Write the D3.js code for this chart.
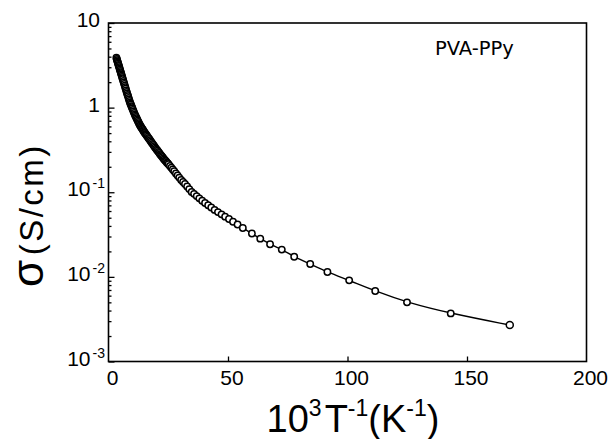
<!DOCTYPE html>
<html>
<head>
<meta charset="utf-8">
<script src="https://cdn.jsdelivr.net/npm/d3@7/dist/d3.min.js"></script>
<style>
  body { margin: 0; background: #fff; }
  text { font-family: "Liberation Sans", Arial, sans-serif; fill: #000; }
</style>
</head>
<body>
<svg id="chart" width="613" height="439"></svg>
<script>
// 10^3 / T (1/K)
const invT = [
  3.30, 3.45, 3.60, 3.75, 3.90, 4.05, 4.20, 4.35, 4.50, 4.65, 4.80, 4.95, 5.10, 5.25,
  5.40, 5.55, 5.70, 5.85, 6.00,
  6.2, 6.4, 6.6, 6.8, 7.0, 7.2, 7.4, 7.6, 7.8, 8.0, 8.2, 8.4, 8.6, 8.8, 9.0, 9.2, 9.4,
  9.6, 9.8, 10.0,
  10.25, 10.5, 10.75, 11.0, 11.25, 11.5, 11.75, 12.0, 12.25, 12.5, 12.75, 13.0, 13.25,
  13.5, 13.75, 14.0, 14.25, 14.5, 14.75, 15.0, 15.25, 15.5, 15.75, 16.0,
  16.35, 16.7, 17.05, 17.4, 17.75, 18.1, 18.45, 18.8, 19.15, 19.5, 19.85, 20.2, 20.55,
  20.9, 21.25, 21.6, 21.95, 22.3, 22.65, 23.0, 23.35, 23.7, 24.05, 24.4, 24.75, 25.1,
  25.7, 26.3, 26.9, 27.5, 28.2, 28.9, 29.6, 30.4, 31.2, 32.0, 32.9, 33.8, 34.8, 35.8,
  36.9, 38.0, 39.2, 40.4, 41.7, 43.0, 44.4, 45.8, 47.3, 48.8, 50.4, 52.1, 54.0, 56.2,
  60.0, 63.5, 67.6, 72.5, 77.7, 84.4, 91.6, 100.7, 111.6, 124.9, 143.2, 167.9
];
// conductivity (S/cm)
const sigma = [
  3.88, 3.76, 3.64, 3.52, 3.41, 3.30, 3.20, 3.10, 3.00, 2.90, 2.81, 2.72, 2.63, 2.55,
  2.47, 2.39, 2.31, 2.23, 2.16,
  2.07, 1.98, 1.90, 1.82, 1.74, 1.67, 1.60, 1.53, 1.47, 1.41, 1.36, 1.30, 1.25, 1.20, 1.15, 1.11, 1.08,
  1.04, 1.01, 0.977,
  0.939, 0.902, 0.866, 0.832, 0.804, 0.776, 0.750, 0.724, 0.700, 0.676, 0.653, 0.631, 0.615,
  0.599, 0.583, 0.569, 0.555, 0.540, 0.526, 0.513, 0.501, 0.490, 0.479, 0.468,
  0.453, 0.439, 0.425, 0.411, 0.398, 0.385, 0.373, 0.361, 0.350, 0.339, 0.328, 0.318, 0.309,
  0.300, 0.291, 0.282, 0.274, 0.267, 0.259, 0.251, 0.244, 0.238, 0.232, 0.225, 0.220, 0.214,
  0.204, 0.195, 0.186, 0.177, 0.167, 0.158, 0.149, 0.140, 0.132, 0.125, 0.117, 0.109, 0.101, 0.0957,
  0.0900, 0.0847, 0.0793, 0.0745, 0.0702, 0.0661, 0.0619, 0.0583, 0.0548, 0.0515, 0.0482, 0.0449, 0.0415, 0.0378,
  0.0325, 0.0283, 0.0243, 0.0210, 0.0173, 0.0142, 0.0114, 0.0091, 0.0068, 0.0050, 0.0037, 0.0027
];

const xTickValues = [0, 50, 100, 150, 200];
const yDecades = [1, 0, -1, -2, -3];
const sampleLabel = "PVA-PPy";

const svg = d3.select("#chart");
const plotL = 108.5, plotR = 586.5, plotT = 23, plotB = 361.5;

const x = d3.scaleLinear().domain([0, 200]).range([plotL, plotR]);
const y = d3.scaleLog().domain([1e-3, 10]).range([plotB, plotT]);

const points = invT.map((v, i) => ({ x: v, s: sigma[i] }));

// frame
svg.append("rect")
  .attr("x", plotL).attr("y", plotT)
  .attr("width", plotR - plotL).attr("height", plotB - plotT)
  .attr("fill", "none").attr("stroke", "#000").attr("stroke-width", 1.6);

// y ticks, pointing inward
const majors = yDecades.map(e => Math.pow(10, e));
const minors = [];
yDecades.slice(1).forEach(e => {
  for (let k = 2; k <= 9; k++) minors.push(k * Math.pow(10, e));
});

const yMajor = svg.append("g").attr("transform", `translate(${plotL},0)`)
  .call(d3.axisRight(y).tickValues(majors).tickSize(6).tickFormat(""));
const yMinor = svg.append("g").attr("transform", `translate(${plotL},0)`)
  .call(d3.axisRight(y).tickValues(minors).tickSize(3).tickFormat(""));
[yMajor, yMinor].forEach(g => {
  g.select(".domain").remove();
  g.selectAll("line").attr("stroke", "#000").attr("stroke-width", 1.3);
});

// x ticks, pointing up
const xAxis = svg.append("g").attr("transform", `translate(0,${plotB})`)
  .call(d3.axisTop(x).tickValues(xTickValues.slice(1, -1)).tickSize(5).tickFormat(""));
xAxis.select(".domain").remove();
xAxis.selectAll("line").attr("stroke", "#000").attr("stroke-width", 1.3);

// x tick labels
svg.append("g").selectAll("text")
  .data(xTickValues)
  .enter().append("text")
  .attr("x", d => x(d) + 4)
  .attr("y", 385)
  .attr("text-anchor", "middle")
  .style("font-size", "21px")
  .text(d => d);

// y tick labels with superscript exponents
const yLab = svg.append("g").selectAll("text")
  .data(yDecades)
  .enter().append("text")
  .attr("x", d => (d >= 0 ? 100 : 105))
  .attr("y", d => y(Math.pow(10, d)) + 4)
  .attr("text-anchor", "end")
  .style("font-size", "21px");
yLab.append("tspan").text(d => (d === 0 ? "1" : "10"));
yLab.filter(d => d < 0).append("tspan")
  .attr("dy", -8).attr("dx", 2)
  .style("font-size", "14px")
  .text(d => d);

// fitted curve
const line = d3.line()
  .x(d => x(d.x))
  .y(d => y(d.s))
  .curve(d3.curveBasis);

svg.append("path")
  .datum(points)
  .attr("d", line)
  .attr("fill", "none")
  .attr("stroke", "#000")
  .attr("stroke-width", 1.4);

// data points, open circles
svg.append("g").selectAll("circle")
  .data(points)
  .enter().append("circle")
  .attr("cx", d => x(d.x))
  .attr("cy", d => y(d.s))
  .attr("r", (d, i) => (i === points.length - 1 ? 3.5 : 3.2))
  .attr("fill", "#fff")
  .attr("stroke", "#000")
  .attr("stroke-width", 1.5);

// sample label
svg.append("text")
  .attr("x", 435)
  .attr("y", 55)
  .style("font-family", "'DejaVu Sans', sans-serif")
  .style("font-size", "19.5px")
  .text(sampleLabel);

// x axis title: 10^3 T^-1 (K^-1)
const xt = svg.append("text")
  .attr("x", 353)
  .attr("y", 432)
  .attr("text-anchor", "middle")
  .style("font-size", "38px");
xt.append("tspan").text("10");
xt.append("tspan").attr("dy", -16).style("font-size", "23px").text("3");
xt.append("tspan").attr("dy", 16).attr("dx", 3).text("T");
xt.append("tspan").attr("dy", -16).style("font-size", "23px").text("-1");
xt.append("tspan").attr("dy", 16).text("(K");
xt.append("tspan").attr("dy", -16).style("font-size", "23px").text("-1");
xt.append("tspan").attr("dy", 16).text(")");

// y axis title
const yt = svg.append("text")
  .attr("transform", "translate(43,287) rotate(-90)")
  .style("font-size", "33px")
  .style("letter-spacing", "2.5px");
yt.append("tspan").style("font-size", "44px").text("σ");
yt.append("tspan").attr("dx", 2).text("(S/cm)");
</script>
</body>
</html>
